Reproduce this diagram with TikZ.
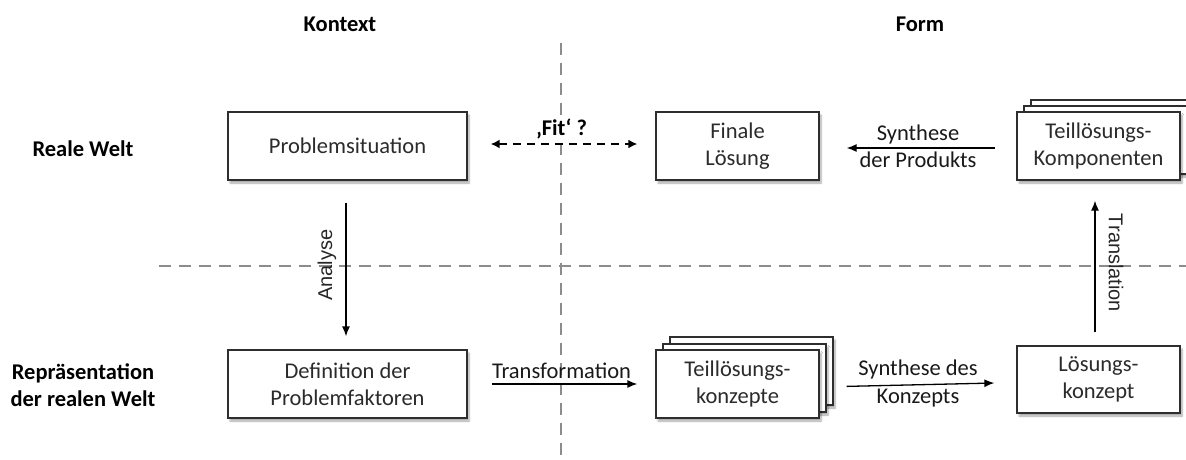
\documentclass[tikz,border=0pt]{standalone}
\usepackage{fontspec}
\setmainfont{Carlito}
\newfontfamily\sidefont{Liberation Sans}
\usetikzlibrary{arrows.meta,shadows.blur}
\definecolor{boxline}{HTML}{2E2E2E}
\definecolor{boxtext}{HTML}{2B2B2B}
\definecolor{divider}{HTML}{8C8C8C}
\begin{document}
\begin{tikzpicture}[x=1pt,y=-1pt,
  every node/.style={font=\fontsize{22.5}{27}\selectfont, text=boxtext},
  box/.style={draw=boxline, line width=1.3pt, fill=white, align=center,
    minimum height=68pt, inner sep=0pt,
    blur shadow={shadow xshift=2pt, shadow yshift=-3pt, shadow blur steps=6, shadow opacity=35}},
  widebox/.style={box, minimum width=239pt},
  narrowbox/.style={box, minimum width=163pt},
  heading/.style={font=\fontsize{22.5}{27}\bfseries\selectfont, text=black, align=center},
  divline/.style={draw=divider, line width=2pt, dash pattern=on 12pt off 8pt},
  flow/.style={draw=black, line width=1.3pt, -{Latex[length=10pt,width=8pt]}},
  fitflow/.style={draw=black, line width=2pt, dash pattern=on 8pt off 6pt,
    {Latex[length=9pt,width=9pt]}-{Latex[length=9pt,width=9pt]}},
  lbl/.style={text=black!90, inner sep=2pt},
  sidelbl/.style={font=\sidefont\fontsize{20}{24}\selectfont, text=black!85, anchor=south, inner sep=9pt}
]
\useasboundingbox (0,0) rectangle (1186,459);

% quadrant dividers
\draw[divline] (561,43) -- (561,459);
\draw[divline] (159,266) -- (1186,266);

% column and row headings
\node[heading] (hkontext) at (340,24) {Kontext};
\node[heading] (hform) at (920,24) {Form};
\node[heading] (hreal) at (83,149) {Reale Welt};
\node[heading] (hrepr) at (83,385) {Repräsentation\\der realen Welt};

% upper row
\node[widebox] (prob) at (347.5,146) {Problemsituation};
\node[narrowbox] (final) at (737.5,146) {Finale\\Lösung};
\node[narrowbox] (compC) at (1112.5,134) {};
\node[narrowbox] (compB) at (1105.5,140) {};
\node[narrowbox] (comp) at (1098.5,146) {Teillösungs-\\Komponenten};

% lower row
\node[widebox] (def) at (347.5,384) {Definition der\\Problemfaktoren};
\node[narrowbox] (partC) at (751.5,371) {};
\node[narrowbox] (partB) at (744.5,378) {};
\node[narrowbox] (part) at (737.5,384) {Teillösungs-\\konzepte};
\node[narrowbox, minimum height=67pt] (sol) at (1098.5,379.5) {Lösungs-\\konzept};

% connectors
\draw[fitflow, shorten <=23pt, shorten >=18pt] ([yshift=2pt]prob.east) -- ([yshift=2pt]final.west)
  node[midway, above=1pt, heading] (fit) {‚Fit‘ ?};
\draw[flow, shorten <=21pt, shorten >=27pt] ([yshift=-2pt]comp.west) -- ([yshift=-2pt]final.east)
  node[midway, above=1pt, lbl] (synA) {Synthese}
  node[midway, below=1pt, lbl] (synB) {der Produkts};
\draw[flow, shorten <=22pt, shorten >=13pt] ([xshift=-1.5pt]prob.south) -- ([xshift=-1.5pt]def.north)
  node[midway, rotate=90, sidelbl] (ana) {Analyse};
\draw[flow, shorten <=24pt, shorten >=18pt] (def.east) -- (part.west)
  node[midway, above=3pt, lbl] (trf) {Transformation};
\draw[flow, shorten <=27pt, shorten >=22pt] ([yshift=-3pt]part.east) -- ([yshift=-3pt]sol.west)
  node[midway, above=3pt, lbl] (synC) {Synthese des}
  node[midway, below=2pt, lbl] (synD) {Konzepts};
\draw[flow, shorten <=13pt, shorten >=20pt] ([xshift=-3.5pt]sol.north) -- ([xshift=-3.5pt]comp.south)
  node[midway, rotate=-90, sidelbl, inner sep=13pt] (trl) {Translation};
\end{tikzpicture}
\end{document}
